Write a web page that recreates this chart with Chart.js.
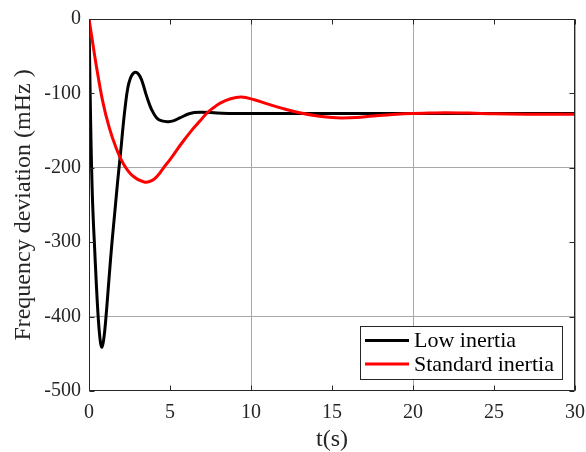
<!DOCTYPE html>
<html>
<head>
<meta charset="utf-8">
<script src="https://cdn.jsdelivr.net/npm/chart.js@4/dist/chart.umd.min.js"></script>
<style>
  html, body { margin: 0; padding: 0; background: #fff; }
  #wrap { width: 586px; height: 452px; }
</style>
</head>
<body>
<div id="wrap"><canvas id="freqChart" width="586" height="452"></canvas></div>
<script>
// Frequency response after a load step, two inertia levels
const seriesLabels = ['Low inertia', 'Standard inertia'];
const seriesColors = ['#000000', '#ff0000'];

const lowInertiaTime = [0, 0.06, 0.12, 0.19, 0.26, 0.33, 0.45, 0.56, 0.67, 0.78, 0.9, 1.05, 1.25,
  1.42, 1.6, 1.77, 1.98, 2.1, 2.25, 2.4, 2.55, 2.7, 2.86, 3.05, 3.25, 3.56, 3.87, 4.18, 4.5, 4.9,
  5.25, 5.6, 6.23, 6.85, 7.9, 9, 11, 14, 17, 20, 23, 26, 30];
const lowInertiaFreq = [0, -85, -160, -225, -268, -300, -355, -398, -428, -441, -432, -400, -345,
  -300, -258, -218, -173, -145, -115, -92, -80, -74, -71.5, -74, -82, -104, -122, -133, -137, -138,
  -136.5, -133, -127, -125.4, -126.3, -127, -127, -127, -127, -127, -127, -127, -127];

const standardInertiaTime = [0, 0.2, 0.43, 0.84, 1.25, 1.67, 2.08, 2.7, 3.4, 3.9, 4.3, 4.6, 5.0,
  5.72, 6.4, 6.85, 7.3, 7.7, 8.1, 8.7, 9.4, 10.2, 11.0, 12.0, 13.0, 14.0, 15.0, 15.6, 16.5, 17.5,
  19.0, 20.0, 21.0, 22.0, 23.5, 25, 27, 30];
const standardInertiaFreq = [0, -28, -60, -110, -146, -173, -193, -211, -219, -217, -209, -200, -189,
  -167, -148, -137, -126, -119, -113, -107.5, -105, -108.5, -114, -120.5, -126, -130, -132.5, -133,
  -132.5, -130.5, -128, -127, -126.5, -126, -126.5, -127.5, -128, -128];

const xMin = 0, xMax = 30, xStep = 5, xGridStep = 10;
const yMin = -500, yMax = 0, yStep = 100, yGridStep = 200;

function toPoints(ts, vs) {
  return ts.map((t, i) => ({ x: t, y: vs[i] }));
}

const serif = '"Liberation Serif", "Times New Roman", serif';
const axisColor = '#262626';

// box around the plot, inward tick marks on all four sides, and the legend
const framePlugin = {
  id: 'frame',
  afterDraw(chart) {
    const ctx = chart.ctx;
    const a = chart.chartArea;
    const xs = chart.scales.x, ys = chart.scales.y;
    const L = Math.round(a.left) + 0.5, R = Math.round(a.right) - 0.5;
    const T = Math.round(a.top) + 0.5, B = Math.round(a.bottom) - 0.5;
    const tickLen = 5;

    ctx.save();
    ctx.strokeStyle = axisColor;
    ctx.lineWidth = 1;
    ctx.beginPath();
    ctx.rect(L, T, R - L, B - T);
    xs.ticks.forEach(tk => {
      const px = Math.round(xs.getPixelForValue(tk.value)) + 0.5;
      ctx.moveTo(px, B); ctx.lineTo(px, B - tickLen);
      ctx.moveTo(px, T); ctx.lineTo(px, T + tickLen);
    });
    ys.ticks.forEach(tk => {
      const py = Math.round(ys.getPixelForValue(tk.value)) + 0.5;
      ctx.moveTo(L, py); ctx.lineTo(L + tickLen, py);
      ctx.moveTo(R, py); ctx.lineTo(R - tickLen, py);
    });
    ctx.stroke();

    // legend box in the lower right corner
    const box = { x: 360.5, y: 326.5, w: 202, h: 53 };
    ctx.fillStyle = '#ffffff';
    ctx.fillRect(box.x, box.y, box.w, box.h);
    ctx.strokeStyle = axisColor;
    ctx.strokeRect(box.x, box.y, box.w, box.h);
    ctx.font = '22px ' + serif;
    ctx.textBaseline = 'middle';
    ctx.textAlign = 'left';
    chart.data.datasets.forEach((ds, i) => {
      const rowY = box.y + 14 + i * 23.6;
      ctx.strokeStyle = ds.borderColor;
      ctx.lineWidth = 3;
      ctx.beginPath();
      ctx.moveTo(box.x + 4.5, rowY);
      ctx.lineTo(box.x + 48.5, rowY);
      ctx.stroke();
      ctx.fillStyle = '#000000';
      ctx.fillText(ds.label, box.x + 53.5, rowY + 1);
    });
    ctx.restore();
  }
};

new Chart(document.getElementById('freqChart'), {
  type: 'line',
  data: {
    datasets: [
      {
        label: seriesLabels[0],
        data: toPoints(lowInertiaTime, lowInertiaFreq),
        borderColor: seriesColors[0],
        borderWidth: 3,
        order: 1
      },
      {
        label: seriesLabels[1],
        data: toPoints(standardInertiaTime, standardInertiaFreq),
        borderColor: seriesColors[1],
        borderWidth: 3,
        order: 0
      }
    ]
  },
  options: {
    responsive: false,
    animation: false,
    parsing: false,
    layout: { padding: { top: 19, right: 11, bottom: 0, left: 0 } },
    elements: {
      point: { radius: 0 },
      line: { tension: 0.4, borderCapStyle: 'round', borderJoinStyle: 'round' }
    },
    plugins: {
      legend: { display: false },
      tooltip: { enabled: false }
    },
    scales: {
      x: {
        type: 'linear',
        min: xMin,
        max: xMax,
        afterFit(scale) {
          scale.height = 61;
          scale.paddingLeft = 0;
          scale.paddingRight = 0;
        },
        border: { display: false },
        grid: {
          drawTicks: false,
          color: c => (c.tick.value % xGridStep === 0 ? '#a8a8a8' : 'rgba(0,0,0,0)')
        },
        ticks: {
          stepSize: xStep,
          padding: 10,
          color: axisColor,
          font: { family: serif, size: 20 }
        },
        title: {
          display: true,
          text: 't(s)',
          color: axisColor,
          font: { family: serif, size: 24, lineHeight: 1 },
          padding: { top: 0, bottom: 0 }
        }
      },
      y: {
        type: 'linear',
        min: yMin,
        max: yMax,
        afterFit(scale) {
          scale.width = 89;
          scale.paddingTop = 0;
          scale.paddingBottom = 0;
        },
        border: { display: false },
        grid: {
          drawTicks: false,
          color: c => (c.tick.value % yGridStep === 0 ? '#a8a8a8' : 'rgba(0,0,0,0)')
        },
        ticks: {
          stepSize: yStep,
          padding: 8,
          color: axisColor,
          font: { family: serif, size: 20 }
        },
        title: {
          display: true,
          text: 'Frequency deviation (mHz )',
          color: axisColor,
          font: { family: serif, size: 24, lineHeight: 1 },
          padding: { top: 12, bottom: 0 }
        }
      }
    }
  },
  plugins: [framePlugin]
});
</script>
</body>
</html>
